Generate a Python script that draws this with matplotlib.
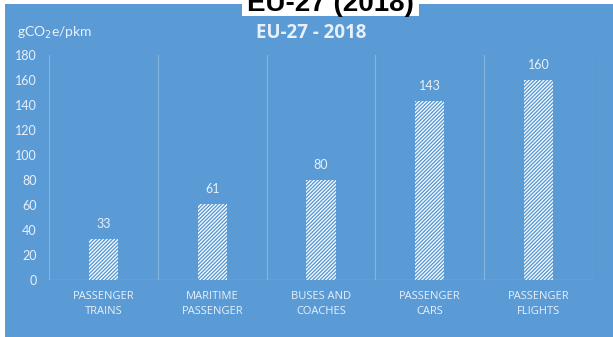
import matplotlib
matplotlib.use("Agg")
import matplotlib.pyplot as plt
from matplotlib.patches import Rectangle

# Data
categories = ["PASSENGER\nTRAINS", "MARITIME\nPASSENGER", "BUSES AND\nCOACHES",
              "PASSENGER\nCARS", "PASSENGER\nFLIGHTS"]
values = [33, 61, 80, 143, 160]
yticks = [0, 20, 40, 60, 80, 100, 120, 140, 160, 180]

BLUE = "#5b9bd5"
GRID = "#84b4e0"
TXT = "#e8f0fa"

plt.rcParams["font.family"] = ["Lato", "DejaVu Sans"]
plt.rcParams["hatch.linewidth"] = 1.0

W, H = 613, 337
fig = plt.figure(figsize=(W / 100, H / 100), dpi=100)
fig.patch.set_facecolor("white")

# blue panel behind the chart
fig.patches.append(Rectangle((5 / W, -0.05), 1 - 5 / W, 1.05 - 4 / H,
                             transform=fig.transFigure, facecolor=BLUE,
                             edgecolor="none", zorder=-10))

ax = fig.add_axes([49 / W, 1 - 280 / H, 544 / W, 225 / H])
ax.set_facecolor("none")
ax.set_zorder(1)
x = list(range(len(values)))
bars = ax.bar(x, values, width=0.27, facecolor="white", edgecolor=BLUE,
              linewidth=0, hatch="/" * 9, zorder=3)

ax.set_xlim(-0.5, len(values) - 0.5)
ax.set_ylim(0, 180)
ax.set_yticks(yticks)
ax.set_yticklabels([str(v) for v in yticks], color=TXT, fontsize=9)
ax.tick_params(axis="y", length=0, pad=9)
ax.set_xticks([])

for s in ax.spines.values():
    s.set_visible(False)

# category separators and baseline
for b in [i - 0.5 for i in range(len(values) + 1)]:
    ax.axvline(b, color=GRID, lw=0.8, zorder=1)
ax.axhline(0, color=GRID, lw=1.0, zorder=2)

for xi, v in zip(x, values):
    ax.annotate(str(v), (xi, v), xytext=(0, 6.5), textcoords="offset points",
                ha="center", va="bottom", color=TXT, fontsize=9)

for xi, lab in zip(x, categories):
    ax.annotate(lab, (xi, 0), xytext=(0, -8), textcoords="offset points",
                ha="center", va="top", color=TXT, fontsize=8,
                family=["Open Sans", "DejaVu Sans"], linespacing=1.45)

fig.text(17 / W, 1 - 32.5 / H, r"gCO$_2$e/pkm", color=TXT, fontsize=10,
         ha="left", va="center")
fig.text(311 / W, 1 - 33 / H, "EU-27 - 2018", color=TXT, fontsize=13.5,
         fontweight="bold", family=["Open Sans", "DejaVu Sans"],
         ha="center", va="center")

# heading strip over the top edge
fig.patches.append(Rectangle((242 / W, 1 - 16 / H), 177 / W, 16 / H,
                             transform=fig.transFigure, facecolor="white",
                             edgecolor="none", zorder=5))
fig.text(330 / W, 1 - 11 / H, "EU-27 (2018)", color="black", fontsize=20,
         fontweight="bold", family="Liberation Sans", ha="center",
         va="baseline", zorder=6)

fig.savefig("out.png", dpi=100)
